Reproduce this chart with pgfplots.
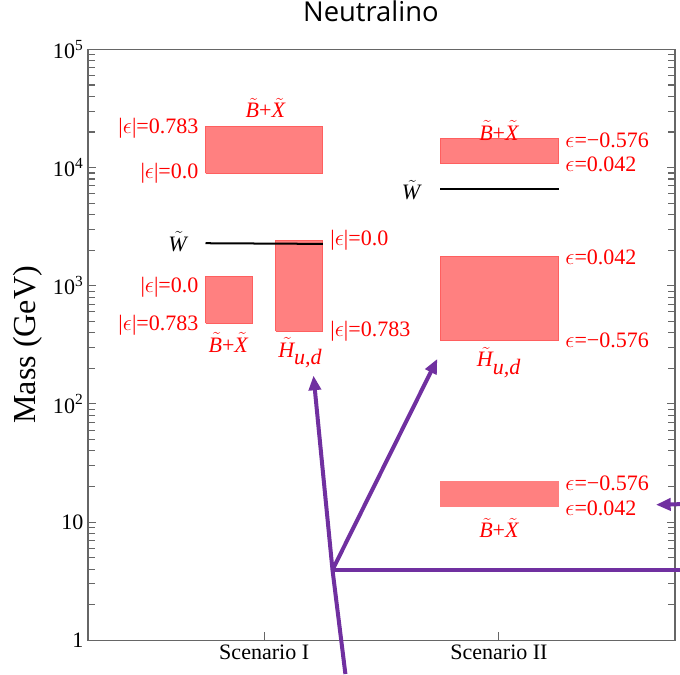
\documentclass[border=0pt]{standalone}
\usepackage{pgfplots}
\pgfplotsset{compat=1.18}
\usepackage{fontspec}
\setmainfont{Liberation Serif}
\newfontfamily\titlefont{Open Sans}
\usetikzlibrary{arrows.meta}
\definecolor{boxfill}{RGB}{255,128,128}
\definecolor{boxedge}{RGB}{255,95,95}
\definecolor{arrowpurple}{RGB}{112,48,160}
\definecolor{labred}{RGB}{255,0,0}
\newcommand{\tl}[1]{$\tilde{\textit{#1}\mkern2mu}\mkern-2mu$}
\newcommand{\BX}{\tl{B}+\tl{X}}
\newcommand{\Hud}{$\tilde{\textit{H}\mkern2mu}\mkern-2mu_{\textit{u,d}}$}
\newcommand{\absep}{|$\epsilon$|}
\newcommand{\se}{$\epsilon$}

\begin{document}
\begin{tikzpicture}
\begin{axis}[
    scale only axis,
    width=439.5pt, height=442.5pt,
    xmin=0.25, xmax=2.75,
    ymode=log, ymin=1, ymax=1e5,
    xtick={1,2},
    xticklabels={Scenario I, Scenario II},
    ytick={1,10,100,1000,10000,100000},
    yticklabels={1,10,10\textsuperscript{2},10\textsuperscript{3},10\textsuperscript{4},10\textsuperscript{5}},
    tick align=inside,
    xtick pos=left,
    ytick pos=both,
    major tick length=6pt,
    minor tick length=5pt,
    every tick/.style={black!60, line width=0.8pt},
    axis line style={black!60, line width=1pt},
    tick label style={font=\fontsize{16.5}{19}\selectfont},
    ylabel={Mass (GeV)},
    ylabel style={font=\fontsize{24}{28}\selectfont, at={(axis description cs:-0.0904,0.5)}, anchor=base},
    title={\titlefont Neutralino},
    title style={font=\fontsize{20.5}{24}\selectfont, at={(0.5,1)}, anchor=base, yshift=15pt, xshift=-8pt},
    clip=false,
    every node/.style={inner sep=0pt},
]
% Scenario I boxes
\addplot[fill=boxfill, draw=boxedge, line width=0.8pt] coordinates {(0.75,8950) (1.25,8950) (1.25,22080) (0.75,22080) (0.75,8950)};
\addplot[fill=boxfill, draw=boxedge, line width=0.8pt] coordinates {(0.75,482) (0.95,482) (0.95,1206) (0.75,1206) (0.75,482)};
\addplot[fill=boxfill, draw=boxedge, line width=0.8pt] coordinates {(1.05,412) (1.25,412) (1.25,2434) (1.05,2434) (1.05,412)};
\addplot[black, line width=1.5pt] coordinates {(0.75,2290) (1.25,2260)};
% Scenario II boxes
\addplot[fill=boxfill, draw=boxedge, line width=0.8pt] coordinates {(1.75,10810) (2.255,10810) (2.255,17620) (1.75,17620) (1.75,10810)};
\addplot[fill=boxfill, draw=boxedge, line width=0.8pt] coordinates {(1.75,344) (2.255,344) (2.255,1782) (1.75,1782) (1.75,344)};
\addplot[fill=boxfill, draw=boxfill, line width=0.8pt] coordinates {(1.75,13.5) (2.255,13.5) (2.255,21.96) (1.75,21.96) (1.75,13.5)};
\addplot[black, line width=1.5pt] coordinates {(1.75,6637) (2.255,6637)};

% labels
\begin{scope}[font=\fontsize{16.5}{19}\selectfont, text=labred]
\node at (axis cs:1.005,31800) {\BX};
\node[anchor=east] at (axis cs:0.74,21540) {\absep=0.783};
\node[anchor=east] at (axis cs:0.74,8950) {\absep=0.0};
\node[anchor=east] at (axis cs:0.74,968) {\absep=0.0};
\node[anchor=east] at (axis cs:0.74,461) {\absep=0.783};
\node at (axis cs:0.847,331) {\BX};
\node at (axis cs:1.154,272) {\Hud};
\node[anchor=west] at (axis cs:1.262,2434) {\absep=0.0};
\node[anchor=west] at (axis cs:1.262,412) {\absep=0.783};
\node at (axis cs:2.0,20700) {\BX};
\node[anchor=west] at (axis cs:2.263,17030) {\se=−0.576};
\node[anchor=west] at (axis cs:2.263,10660) {\se=0.042};
\node[anchor=west] at (axis cs:2.263,1738) {\se=0.042};
\node[anchor=west] at (axis cs:2.263,344) {\se=−0.576};
\node at (axis cs:2.0,224) {\Hud};
\node[anchor=west] at (axis cs:2.263,21.1) {\se=−0.576};
\node[anchor=west] at (axis cs:2.263,13.2) {\se=0.042};
\node at (axis cs:2.0,8.95) {\BX};
\end{scope}
\node[anchor=east, font=\fontsize{16.5}{19}\selectfont] at (axis cs:0.69,2373) {\tl{W}};
\node[anchor=east, font=\fontsize{16.5}{19}\selectfont] at (axis cs:1.685,6420) {\tl{W}};

% purple annotation arrows
\draw[arrowpurple, line width=3pt, -{Triangle[length=11pt,width=9pt]}] (axis cs:1.346,0.518) -- (axis cs:1.291,3.94) -- (axis cs:1.210,173.8);
\draw[arrowpurple, line width=3pt, -{Triangle[length=11pt,width=9pt]}] (axis cs:1.291,3.94) -- (axis cs:1.7375,240.5);
\draw[arrowpurple, line width=3pt] (axis cs:1.291,3.94) -- (axis cs:2.85,3.94);
\draw[arrowpurple, line width=3pt, -{Triangle[length=11pt,width=9pt]}] (axis cs:2.85,14.3) -- (axis cs:2.669,14.02);

\coordinate (SW) at (rel axis cs:0,0);
\coordinate (NE) at (rel axis cs:1,1);
\end{axis}
\pgfresetboundingbox
\path[use as bounding box] ([shift={(-66pt,-25.3pt)}]SW) rectangle ([shift={(3.75pt,37pt)}]NE);
\end{tikzpicture}
\end{document}
